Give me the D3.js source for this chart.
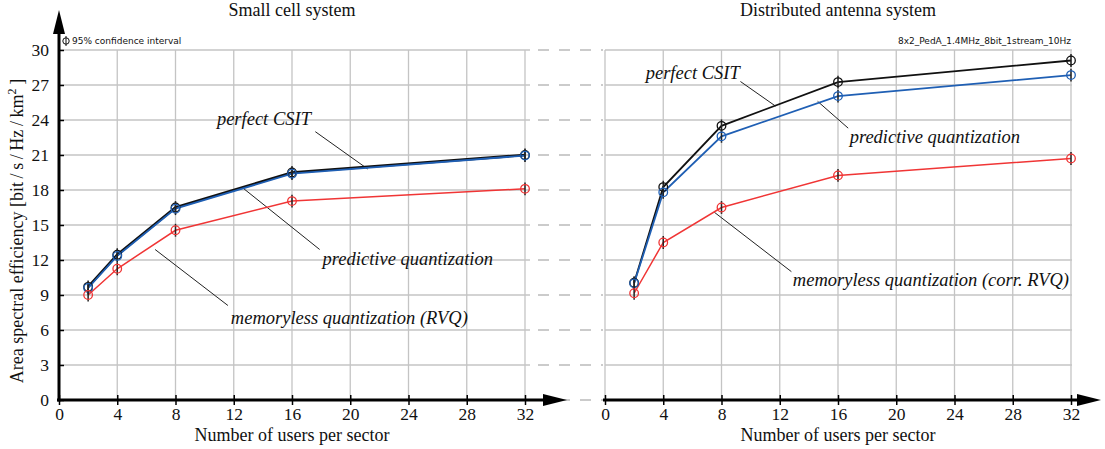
<!DOCTYPE html>
<html>
<head>
<meta charset="utf-8">
<script src="https://cdn.jsdelivr.net/npm/d3@7"></script>
<style>
  body { margin: 0; background: #fff; }
  svg { display: block; }
  text { font-family: "Liberation Serif", "Times New Roman", serif; fill: #111; }
  .small { font-family: "DejaVu Sans", sans-serif; font-size: 9px; }
  .tick text { font-size: 17.5px; }
  .note { font-style: italic; font-size: 18.5px; }
</style>
</head>
<body>
<svg width="1105" height="449"></svg>
<script>
// users per sector
const users = [2, 4, 8, 16, 32];
const xTicks = [0, 4, 8, 12, 16, 20, 24, 28, 32];
const yTicks = [0, 3, 6, 9, 12, 15, 18, 21, 24, 27, 30];

// small cell system
const smallPerfect = [9.7, 12.45, 16.5, 19.5, 21.0];
const smallPredictive = [9.6, 12.35, 16.4, 19.4, 20.95];
const smallMemoryless = [9.0, 11.25, 14.55, 17.05, 18.1];

// distributed antenna system
const dasPerfect = [10.05, 18.25, 23.5, 27.25, 29.1];
const dasPredictive = [10.0, 17.8, 22.6, 26.05, 27.85];
const dasMemoryless = [9.15, 13.5, 16.5, 19.25, 20.7];

// 95% confidence half width
const ciHalf = 0.55;

const colors = { perfect: "#111111", predictive: "#1f5fb4", memoryless: "#f03535" };

const svg = d3.select("svg");
const y = d3.scaleLinear().domain([0, 30]).range([400, 50]);
const xLeft = d3.scaleLinear().domain([0, 32]).range([59, 525]);
const xRight = d3.scaleLinear().domain([0, 32]).range([605, 1071]);

// dashed connectors between the panels
svg.append("g").selectAll("line")
  .data(yTicks).enter().append("line")
  .attr("x1", 538).attr("x2", 603)
  .attr("y1", d => y(d)).attr("y2", d => y(d))
  .attr("stroke", "#bbb").attr("stroke-width", 1.3)
  .attr("stroke-dasharray", "11,10");

function panel(x, series, notes, opts) {
  let g = svg.append("g");

  // grid
  g.selectAll(".hg").data(yTicks).enter().append("line")
    .attr("x1", x(0)).attr("x2", x(32) + opts.gridExtra)
    .attr("y1", d => y(d)).attr("y2", d => y(d))
    .attr("stroke", "#c4c4c4").attr("stroke-width", 1.3);
  g.selectAll(".vg").data(xTicks).enter().append("line")
    .attr("x1", d => x(d)).attr("x2", d => x(d))
    .attr("y1", y(30)).attr("y2", y(0))
    .attr("stroke", "#c4c4c4").attr("stroke-width", 1.3);

  // x axis
  let ax = g.append("g").attr("transform", `translate(0,${y(0)})`)
    .call(d3.axisBottom(x).tickValues(xTicks).tickSize(5).tickPadding(3));
  ax.select(".domain").remove();
  ax.selectAll(".tick line").attr("y1", -5).attr("stroke", "#000").attr("stroke-width", 1.5);
  ax.selectAll(".tick text").attr("fill", "#111");

  g.append("line")
    .attr("x1", x(0) - 2).attr("x2", opts.arrowTip - 15)
    .attr("y1", y(0)).attr("y2", y(0))
    .attr("stroke", "#000").attr("stroke-width", 3);
  g.append("path")
    .attr("d", `M${opts.arrowTip},${y(0)} L${opts.arrowTip - 24},${y(0) - 6} L${opts.arrowTip - 24},${y(0) + 6} Z`)
    .attr("fill", "#000");

  // axis label and title
  g.append("text")
    .attr("x", (x(0) + x(32)) / 2).attr("y", 441)
    .attr("text-anchor", "middle").style("font-size", "18px")
    .text("Number of users per sector");
  g.append("text")
    .attr("x", (x(0) + x(32)) / 2).attr("y", 16)
    .attr("text-anchor", "middle").style("font-size", "18px")
    .text(opts.title);

  // leader lines and notes
  notes.forEach(n => {
    g.append("line")
      .attr("x1", x(n.from[0])).attr("y1", y(n.from[1]))
      .attr("x2", x(n.to[0])).attr("y2", y(n.to[1]))
      .attr("stroke", "#222").attr("stroke-width", 1);
    g.append("text").attr("class", "note")
      .attr("x", x(n.at[0])).attr("y", y(n.at[1]))
      .attr("text-anchor", n.anchor)
      .text(n.text);
  });

  // series
  let line = d3.line().x((d, i) => x(users[i])).y(d => y(d));
  series.forEach(s => {
    g.append("path").datum(s.values)
      .attr("d", line)
      .attr("fill", "none")
      .attr("stroke", s.color)
      .attr("stroke-width", s.width);
  });
  series.forEach(s => {
    g.selectAll(null).data(s.values).enter().append("line")
      .attr("x1", (d, i) => x(users[i])).attr("x2", (d, i) => x(users[i]))
      .attr("y1", d => y(d - ciHalf)).attr("y2", d => y(d + ciHalf))
      .attr("stroke", "#222").attr("stroke-width", 1.5);
    g.selectAll(null).data(s.values).enter().append("circle")
      .attr("cx", (d, i) => x(users[i])).attr("cy", d => y(d))
      .attr("r", 4.3)
      .attr("fill", "none")
      .attr("stroke", s.color).attr("stroke-width", 1.3);
  });
  return g;
}

panel(xLeft, [
  { values: smallPerfect, color: colors.perfect, width: 2.6 },
  { values: smallPredictive, color: colors.predictive, width: 1.8 },
  { values: smallMemoryless, color: colors.memoryless, width: 1.5 }
], [
  { text: "perfect CSIT", at: [17.3, 23.6], anchor: "end", from: [17.6, 23.0], to: [21.2, 19.8] },
  { text: "predictive quantization", at: [18.1, 11.55], anchor: "start", from: [17.9, 12.9], to: [12.7, 18.1] },
  { text: "memoryless quantization (RVQ)", at: [11.8, 6.55], anchor: "start", from: [11.6, 8.1], to: [6.6, 12.9] }
], { title: "Small cell system", arrowTip: 567, gridExtra: 5 });

panel(xRight, [
  { values: dasPerfect, color: colors.perfect, width: 1.8 },
  { values: dasPredictive, color: colors.predictive, width: 1.8 },
  { values: dasMemoryless, color: colors.memoryless, width: 1.5 }
], [
  { text: "perfect CSIT", at: [9.25, 27.5], anchor: "end", from: [9.3, 27.3], to: [11.7, 25.2] },
  { text: "predictive quantization", at: [16.8, 22.05], anchor: "start", from: [16.7, 23.3], to: [14.6, 25.6] },
  { text: "memoryless quantization (corr. RVQ)", at: [12.9, 9.75], anchor: "start", from: [12.8, 11.0], to: [7.5, 16.1] }
], { title: "Distributed antenna system", arrowTip: 1101, gridExtra: 1 });

// y axis (left panel only)
let ay = svg.append("g").attr("transform", `translate(${xLeft(0)},0)`)
  .call(d3.axisLeft(y).tickValues(yTicks).tickSize(6).tickPadding(4));
ay.select(".domain").remove();
ay.selectAll(".tick line").attr("x2", 5).attr("stroke", "#000").attr("stroke-width", 1.5);
svg.append("line")
  .attr("x1", xLeft(0)).attr("x2", xLeft(0))
  .attr("y1", y(0) + 1.5).attr("y2", 30)
  .attr("stroke", "#000").attr("stroke-width", 3);
svg.append("path")
  .attr("d", `M${xLeft(0)},10 L${xLeft(0) - 6},34 L${xLeft(0) + 6},34 Z`)
  .attr("fill", "#000");

svg.append("text")
  .attr("transform", `translate(23,231) rotate(-90)`)
  .attr("text-anchor", "middle").style("font-size", "18px")
  .html('Area spectral efficiency [bit\u2009/\u2009s\u2009/\u2009Hz\u2009/\u2009km<tspan dy="-7" style="font-size:12px">2</tspan><tspan dy="7">\u2009]</tspan>');

// confidence interval legend
svg.append("line").attr("x1", 66).attr("x2", 66).attr("y1", 36).attr("y2", 46)
  .attr("stroke", "#111").attr("stroke-width", 1);
svg.append("circle").attr("cx", 66).attr("cy", 41).attr("r", 3.2)
  .attr("fill", "none").attr("stroke", "#111").attr("stroke-width", 1);
svg.append("text").attr("class", "small").attr("x", 72).attr("y", 44)
  .text("95% confidence interval");
svg.append("text").attr("class", "small").attr("x", xRight(32)).attr("y", 44)
  .attr("text-anchor", "end")
  .text("8x2_PedA_1.4MHz_8bit_1stream_10Hz");
</script>
</body>
</html>
